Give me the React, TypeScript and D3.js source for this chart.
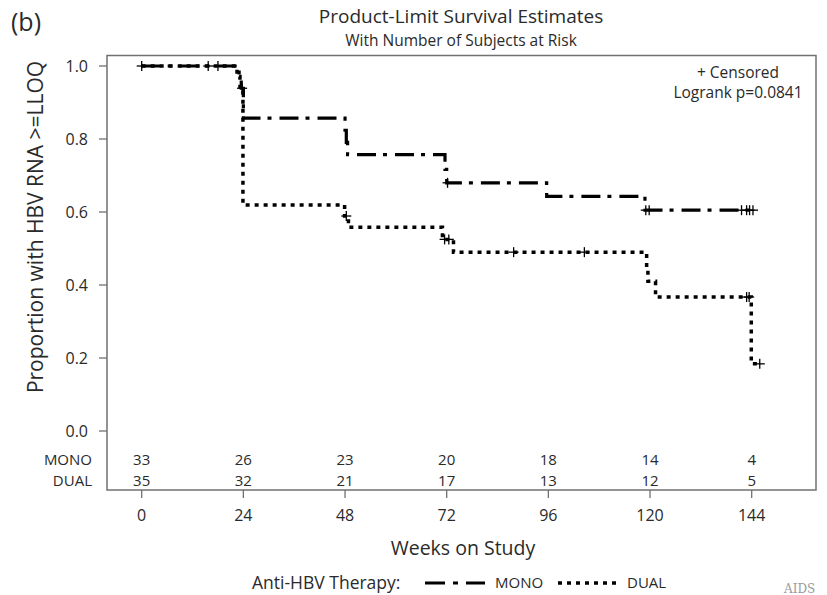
import React from 'react';
import * as d3 from 'd3';

const weekTicks = [0, 24, 48, 72, 96, 120, 144];
const propTicks = [0, 0.2, 0.4, 0.6, 0.8, 1.0];
const groupNames = ['MONO', 'DUAL'];

const monoTimes = [0, 23.0, 23.5, 24.0, 48.0, 48.3, 48.6, 71.6, 72.0, 95.6, 118.8, 145.4];
const monoSurv = [1.0, 0.970, 0.939, 0.857, 0.824, 0.791, 0.757, 0.717, 0.680, 0.643, 0.605, 0.605];
const monoCensor = [0, 15.7, 18.0, 23.7, 72.2, 119.0, 119.8, 141.6, 142.8, 143.5, 144.3];

const dualTimes = [0, 22.5, 23.2, 23.9, 47.9, 48.8, 71.0, 73.6, 119.2, 119.5, 121.3, 143.9, 145.9];
const dualSurv = [1.0, 0.971, 0.943, 0.619, 0.589, 0.558, 0.525, 0.490, 0.448, 0.410, 0.367, 0.184, 0.184];
const dualCensor = [48.3, 71.5, 72.5, 87.8, 104.5, 142.8, 143.4, 145.9];

const monoAtRisk = [33, 26, 23, 20, 18, 14, 4];
const dualAtRisk = [35, 32, 21, 17, 13, 12, 5];

const FONT = "'Open Sans', 'DejaVu Sans', sans-serif";
const TXT = '#2a2a2a';

function stepValue(times: number[], surv: number[], t: number) {
  let v = surv[0];
  for (let i = 0; i < times.length; i++) if (times[i] <= t) v = surv[i];
  return v;
}

export default function App() {
  const W = 827, H = 595;
  const frame = { left: 107, right: 816, top: 55.5, bottom: 490 };
  const x = d3.scaleLinear().domain([0, 144]).range([141.7, 751.7]);
  const y = d3.scaleLinear().domain([0, 1]).range([431, 66]);

  const line = d3
    .line<[number, number]>()
    .x((d) => x(d[0]))
    .y((d) => y(d[1]))
    .curve(d3.curveStepAfter);

  const monoPath = line(monoTimes.map((t, i) => [t, monoSurv[i]] as [number, number])) || '';
  const dualPath = line(dualTimes.map((t, i) => [t, dualSurv[i]] as [number, number])) || '';

  const plus = (cx: number, cy: number, key: string) => (
    <g key={key} stroke="#000" strokeWidth={1.3}>
      <line x1={cx - 5} x2={cx + 5} y1={cy} y2={cy} />
      <line x1={cx} x2={cx} y1={cy - 5} y2={cy + 5} />
    </g>
  );

  const monoStyle = { stroke: '#000', strokeWidth: 3.2, strokeDasharray: '19,7,4,8', fill: 'none' };
  const dualStyle = { stroke: '#000', strokeWidth: 3.5, strokeDasharray: '4,5', fill: 'none' };
  const riskRows = [monoAtRisk, dualAtRisk];
  const riskY = [459.5, 480.5];

  return (
    <svg width={W} height={H} style={{ display: 'block', position: 'absolute', left: 0, top: 0 }} fontFamily={FONT}>
      <rect x={0} y={0} width={W} height={H} fill="#fff" />
      <text x={11} y={31} fontSize={25} fill={TXT}>(b)</text>
      <text x={461} y={23} fontSize={19} textAnchor="middle" fill={TXT}>Product-Limit Survival Estimates</text>
      <text x={461} y={45.5} fontSize={15.5} textAnchor="middle" fill={TXT}>With Number of Subjects at Risk</text>

      <rect x={frame.left} y={frame.top} width={frame.right - frame.left} height={frame.bottom - frame.top}
        fill="none" stroke="#707070" strokeWidth={1.5} />

      {propTicks.map((v) => (
        <g key={'yt' + v}>
          <line x1={frame.left - 8} x2={frame.left} y1={y(v)} y2={y(v)} stroke="#707070" strokeWidth={1.3} />
          <text x={88} y={y(v)} dy="0.35em" fontSize={16} textAnchor="end" fill={TXT}>{v.toFixed(1)}</text>
        </g>
      ))}
      <text transform={`translate(43,227) rotate(-90)`} fontSize={21} textAnchor="middle" fill={TXT}>
        Proportion with HBV RNA &gt;=LLOQ
      </text>

      {weekTicks.map((w) => (
        <g key={'xt' + w}>
          <line x1={x(w)} x2={x(w)} y1={frame.bottom} y2={frame.bottom + 8} stroke="#707070" strokeWidth={1.3} />
          <text x={x(w)} y={521} fontSize={16} textAnchor="middle" fill={TXT}>{w}</text>
        </g>
      ))}
      <text x={463} y={555} fontSize={19.5} textAnchor="middle" fill={TXT}>Weeks on Study</text>

      {groupNames.map((g, gi) => (
        <g key={'risk' + g}>
          <text x={92} y={riskY[gi]} dy="0.35em" fontSize={15} textAnchor="end" fill={TXT}>{g}</text>
          {riskRows[gi].map((n, i) => (
            <text key={i} x={x(weekTicks[i])} y={riskY[gi]} dy="0.35em" fontSize={15} textAnchor="middle" fill={TXT}>{n}</text>
          ))}
        </g>
      ))}

      <path d={dualPath} style={dualStyle} />
      <path d={monoPath} style={monoStyle} />
      {monoCensor.map((t, i) => plus(x(t), y(stepValue(monoTimes, monoSurv, t)), 'mc' + i))}
      {dualCensor.map((t, i) => plus(x(t), y(stepValue(dualTimes, dualSurv, t)), 'dc' + i))}

      <text x={738} y={78} fontSize={15.5} textAnchor="middle" fill={TXT}>+ Censored</text>
      <text x={738} y={98} fontSize={15.5} textAnchor="middle" fill={TXT}>Logrank p=0.0841</text>

      <text x={252} y={589} fontSize={17.5} fill={TXT}>Anti-HBV Therapy:</text>
      <line x1={425} x2={485} y1={583} y2={583} style={{ ...monoStyle, strokeDasharray: '20,8,5,8' }} />
      <text x={495} y={588} fontSize={15} fill={TXT}>{groupNames[0]}</text>
      <line x1={558} x2={617} y1={583} y2={583} style={dualStyle} />
      <text x={627} y={588} fontSize={15} fill={TXT}>{groupNames[1]}</text>

      <text x={784} y={593} fontSize={12} fontFamily="'DejaVu Serif', 'Liberation Serif', serif" fill="#9a9a9a">AIDS</text>
    </svg>
  );
}
